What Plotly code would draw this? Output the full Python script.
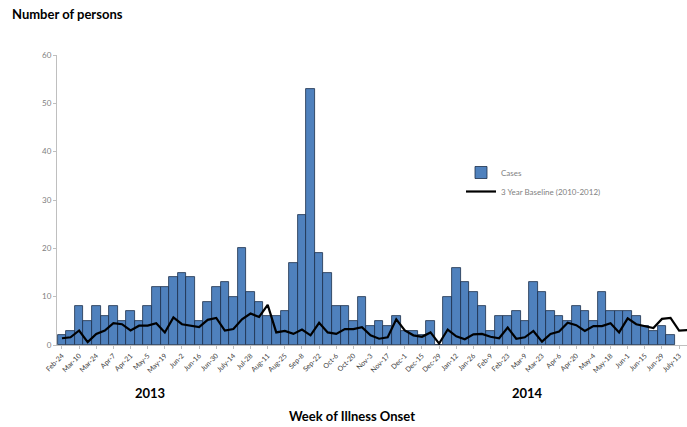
import plotly.graph_objects as go

# Data
tick_labels = ["Feb-24", "Mar-10", "Mar-24", "Apr-7", "Apr-21", "May-5", "May-19", "Jun-2",
               "Jun-16", "Jun-30", "July-14", "Jul-28", "Aug-11", "Aug-25", "Sep-8", "Sep-22",
               "Oct-6", "Oct-20", "Nov-3", "Nov-17", "Dec-1", "Dec-15", "Dec-29", "Jan-12",
               "Jan-26", "Feb-9", "Feb-23", "Mar-9", "Mar-23", "Apr-6", "Apr-20", "May-4",
               "May-18", "Jun-1", "Jun-15", "Jun-29", "July-13"]

cases = [2, 3, 8, 5, 8, 6, 8, 5, 7, 5, 8, 12, 12, 14, 15, 14, 5, 9, 12, 13, 10, 20, 11, 9,
         6, 6, 7, 17, 27, 53, 19, 15, 8, 8, 5, 10, 4, 5, 4, 6, 3, 3, 2, 5, 0, 10, 16,
         13, 11, 8, 3, 6, 6, 7, 5, 13, 11, 7, 6, 5, 8, 7, 5, 11, 7, 7, 7, 6, 4, 3, 4, 2, None]

baseline = [1.4, 1.6, 3.0, 0.6, 2.3, 3.0, 4.5, 4.3, 3.0, 4.0, 4.0, 4.5, 2.6, 5.7, 4.3, 4.0,
            3.7, 5.2, 5.6, 3.0, 3.3, 5.3, 6.5, 5.8,
            8.3, 2.6, 2.9, 2.3, 3.2, 2.0, 4.6, 2.6, 2.3, 3.3, 3.3, 3.7, 2.0, 1.3, 1.6, 5.3,
            3.0, 2.0, 1.7, 2.6, 0.3, 3.2, 1.8,
            1.2, 2.2, 2.3, 1.7, 1.4, 3.6, 1.3, 1.6, 2.9, 0.7, 2.3, 2.8, 4.6, 4.1, 2.9, 3.9,
            3.9, 4.5, 2.6, 5.5, 4.3, 3.9, 3.5, 5.4, 5.6, 3.0, 3.1]

week_idx = list(range(len(baseline)))
bar_idx = list(range(len(cases)))
tick_idx = list(range(0, len(cases), 2))

W, H = 687, 427
L, R, T, B = 57, 0, 55, 82
PW, PH = W - L - R, H - T - B


def px(x):
    return (x - L) / PW


def py(y):
    return (H - B - y) / PH


FONT = "Lato, 'Open Sans', 'Liberation Sans', sans-serif"

fig = go.Figure()
fig.add_trace(go.Bar(
    x=bar_idx, y=cases, name="Cases", width=1.0,
    marker=dict(color="#4f81bd", line=dict(color="#1c2f4a", width=0.8)),
))
fig.add_trace(go.Scatter(
    x=week_idx, y=baseline, name="3 Year Baseline (2010-2012)", mode="lines",
    line=dict(color="#000000", width=2.2),
))

annos = [
    dict(text="<b>Number of persons</b>", x=px(10), y=py(14), xanchor="left", yanchor="middle",
         font=dict(size=13, color="#000000")),
    dict(text="<b>2013</b>", x=px(150), y=py(393), xanchor="center", yanchor="middle",
         font=dict(size=13, color="#000000")),
    dict(text="<b>2014</b>", x=px(527), y=py(393), xanchor="center", yanchor="middle",
         font=dict(size=13, color="#000000")),
    dict(text="<b>Week of Illness Onset</b>", x=px(352), y=py(416), xanchor="center",
         yanchor="middle", font=dict(size=13, color="#000000")),
]
for a in annos:
    a.update(xref="paper", yref="paper", showarrow=False)

fig.update_layout(
    width=W, height=H,
    margin=dict(l=L, r=R, t=T, b=B),
    paper_bgcolor="white", plot_bgcolor="white",
    font=dict(family=FONT, color="#595959"),
    bargap=0,
    showlegend=True,
    legend=dict(x=px(461), y=py(158), xanchor="left", yanchor="top",
                bgcolor="rgba(0,0,0,0)", font=dict(size=8, color="#7f7f7f"),
                itemwidth=30, tracegroupgap=0),
    annotations=annos,
    xaxis=dict(range=[-0.58, 72.92], tickmode="array", tickvals=tick_idx, ticktext=tick_labels,
               tickangle=-45, tickfont=dict(size=7, color="#404040"), showline=True,
               linecolor="#bfbfbf", linewidth=1, ticks="outside", ticklen=3,
               tickcolor="#bfbfbf", showgrid=False, zeroline=False),
    yaxis=dict(range=[0, 60], dtick=10, showline=True, linecolor="#bfbfbf", linewidth=1,
               ticks="outside", ticklen=3, tickcolor="#bfbfbf",
               tickfont=dict(size=8, color="#808080"), showgrid=False, zeroline=False),
)

fig.write_html("out.html", config={"displayModeBar": False},
               post_script="document.body.style.margin='0px';document.body.style.overflow='hidden';")
